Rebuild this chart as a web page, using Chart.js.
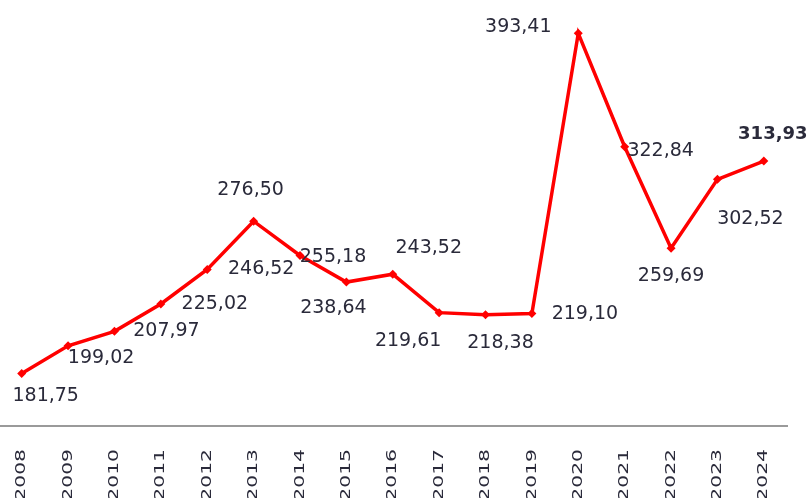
<!DOCTYPE html>
<html>
<head>
<meta charset="utf-8">
<script src="https://cdn.jsdelivr.net/npm/chart.js@4"></script>
<style>
  html, body { margin: 0; padding: 0; background: #ffffff; }
  #wrap { width: 812px; height: 498px; position: relative; overflow: hidden; }
  #c { position: absolute; left: -6px; top: 0; }
</style>
</head>
<body>
<div id="wrap"><canvas id="c" width="818" height="498"></canvas></div>
<script>
// data
const years = ['2008', '2009', '2010', '2011', '2012', '2013', '2014', '2015', '2016',
  '2017', '2018', '2019', '2020', '2021', '2022', '2023', '2024']
const values = [181.75, 199.02, 207.97, 225.02, 246.52, 276.50, 255.18, 238.64, 243.52,
  219.61, 218.38, 219.10, 393.41, 322.84, 259.69, 302.52, 313.93]

// label placement around each point (dx, dy from marker to text centre)
const labelOffsets = [
  [24, 23], [33, 12], [52, 0], [54, 0], [54, 0], [-3, -31], [33, 2], [-13, 26], [36, -26],
  [-31, 28], [15, 28], [53, 1], [-60, -6], [36, 4], [0, 28], [33, 40], [9, -27]
]
const boldLabel = 16

const textColor = '#2a2a3a'
const fmt = v => v.toFixed(2).replace('.', ',')

// draws the value labels and the vertical year labels
const labelsPlugin = {
  id: 'labels',
  afterDraw(chart) {
    const ctx = chart.ctx
    const meta = chart.getDatasetMeta(0)
    ctx.save()
    ctx.fillStyle = textColor
    ctx.textAlign = 'center'
    ctx.textBaseline = 'middle'
    meta.data.forEach((pt, i) => {
      const [dx, dy] = labelOffsets[i]
      ctx.font = (i === boldLabel ? 'bold 18px' : '19px') + ' "DejaVu Sans"'
      ctx.fillText(fmt(values[i]), pt.x + dx, pt.y + dy)
    })

    // year labels, rotated, reading bottom to top
    const xs = chart.scales.x
    ctx.font = '14px "DejaVu Sans"'
    years.forEach((y, i) => {
      const x = xs.getPixelForValue(i)
      ctx.save()
      ctx.translate(x, 449)
      ctx.rotate(-Math.PI / 2)
      ctx.scale(1.45, 1)
      ctx.textAlign = 'right'
      ctx.fillText(y, 0, 0)
      ctx.restore()
    })
    ctx.restore()
  }
}

new Chart(document.getElementById('c'), {
  type: 'line',
  data: {
    labels: years,
    datasets: [{
      data: values,
      borderColor: '#ff0000',
      backgroundColor: '#ff0000',
      borderWidth: 3.5,
      pointStyle: 'rectRot',
      pointRadius: 4.5,
      pointBorderWidth: 0,
      tension: 0
    }]
  },
  options: {
    responsive: false,
    animation: false,
    layout: { padding: { left: -3, right: 25, top: 0, bottom: 64 } },
    plugins: { legend: { display: false }, tooltip: { enabled: false } },
    scales: {
      x: {
        offset: true,
        grid: { display: false },
        border: { display: true, color: '#9a9a9a', width: 2 },
        ticks: { display: false }
      },
      y: {
        display: false,
        min: 149.1,
        max: 411.3
      }
    }
  },
  plugins: [labelsPlugin]
})
</script>
</body>
</html>
